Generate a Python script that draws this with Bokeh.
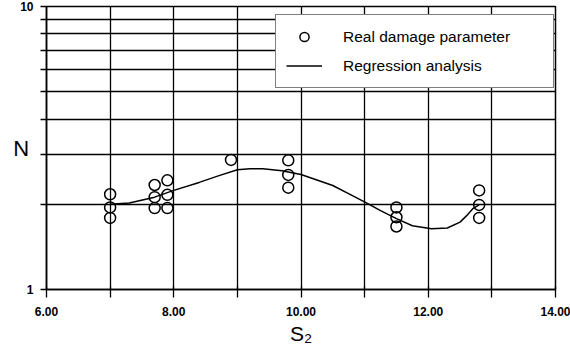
from bokeh.plotting import figure
from bokeh.models import FixedTicker, Legend, LegendItem
from bokeh.embed import file_html
from bokeh.resources import INLINE

# ---- data ----
s2_points = [7.0, 7.0, 7.0, 7.7, 7.7, 7.7, 7.9, 7.9, 7.9, 8.9,
             9.8, 9.8, 9.8, 11.5, 11.5, 11.5, 12.8, 12.8, 12.8]
n_points = [2.17, 1.95, 1.79, 2.34, 2.12, 1.94, 2.43, 2.16, 1.94, 2.87,
            2.86, 2.54, 2.29, 1.95, 1.80, 1.67, 2.24, 1.99, 1.79]

fit_s2 = [7.0, 7.3, 7.7, 8.0, 8.4, 8.7, 9.0, 9.2, 9.4, 9.7, 10.0, 10.5,
          10.8, 11.05, 11.25, 11.5, 11.75, 12.05, 12.3, 12.5, 12.6, 12.7, 12.8]
fit_n = [2.00, 2.02, 2.12, 2.24, 2.39, 2.52, 2.65, 2.67, 2.67, 2.63, 2.55, 2.33,
         2.15, 2.01, 1.90, 1.78, 1.68, 1.64, 1.65, 1.73, 1.82, 1.93, 1.99]

x_ticks = [6, 7, 8, 9, 10, 11, 12, 13, 14]
x_tick_labels = ["6.00", "", "8.00", "", "10.00", "", "12.00", "", "14.00"]
y_ticks = [1, 2, 3, 4, 5, 6, 7, 8, 9, 10]
y_tick_labels = ["1", "", "", "", "", "", "", "", "", "10"]

FONT = "Liberation Sans"

p = figure(width=570, height=356, x_range=(6, 14), y_range=(1, 10),
           y_axis_type="log", output_backend="svg", toolbar_location=None,
           min_border_left=46, min_border_right=15, min_border_top=6,
           min_border_bottom=67)
p.background_fill_color = "white"
p.border_fill_color = "white"
p.outline_line_color = "black"
p.outline_line_width = 1.5

# axes
p.xaxis.ticker = FixedTicker(ticks=x_ticks)
p.yaxis.ticker = FixedTicker(ticks=y_ticks)
p.xaxis.major_label_overrides = {t: s for t, s in zip(x_ticks, x_tick_labels)}
p.yaxis.major_label_overrides = {t: s for t, s in zip(y_ticks, y_tick_labels)}
for ax in (p.xaxis[0], p.yaxis[0]):
    ax.axis_line_color = "black"
    ax.axis_line_width = 1.5
    ax.major_tick_line_color = "black"
    ax.major_tick_line_width = 1.3
    ax.minor_tick_line_color = None
    ax.major_label_text_font = FONT
    ax.major_label_text_font_style = "bold"
    ax.major_label_text_font_size = "12px"
    ax.major_label_text_color = "black"
    ax.axis_label_text_font = FONT
    ax.axis_label_text_font_style = "normal"
    ax.axis_label_text_color = "black"
p.xaxis.major_tick_out = 8
p.xaxis.major_tick_in = 3
p.xaxis.major_label_standoff = 9
p.yaxis.major_tick_out = 6
p.yaxis.major_tick_in = 0
p.yaxis.major_label_standoff = 7

p.xaxis.axis_label = "S\u2082"
p.xaxis.axis_label_text_font_size = "21px"
p.xaxis.axis_label_standoff = 3
p.yaxis.axis_label = "N"
p.yaxis.axis_label_text_font_size = "22px"
p.yaxis.axis_label_orientation = "horizontal"
p.yaxis.axis_label_standoff = -12

# grid
p.xgrid.grid_line_color = "black"
p.xgrid.grid_line_width = 1.3
p.ygrid.grid_line_color = "black"
p.ygrid.grid_line_width = 1.3
p.ygrid.minor_grid_line_color = None

# data
pts = p.scatter(s2_points, n_points, marker="circle", size=11,
                fill_color="white", fill_alpha=0, line_color="black", line_width=1.5)
ln = p.line(fit_s2, fit_n, line_color="black", line_width=1.5)

legend = Legend(items=[LegendItem(label="Real damage parameter", renderers=[pts]),
                       LegendItem(label="Regression analysis", renderers=[ln])],
                location=(229, 201), orientation="vertical",
                border_line_color="black", border_line_width=1.5,
                background_fill_color="white", background_fill_alpha=1.0,
                padding=10, spacing=6, margin=0, glyph_height=23, glyph_width=36,
                label_standoff=21, label_width=200,
                label_text_font=FONT, label_text_font_size="15.5px",
                label_text_color="black")
p.add_layout(legend, "center")

open("out.html", "w").write(file_html(p, INLINE))
